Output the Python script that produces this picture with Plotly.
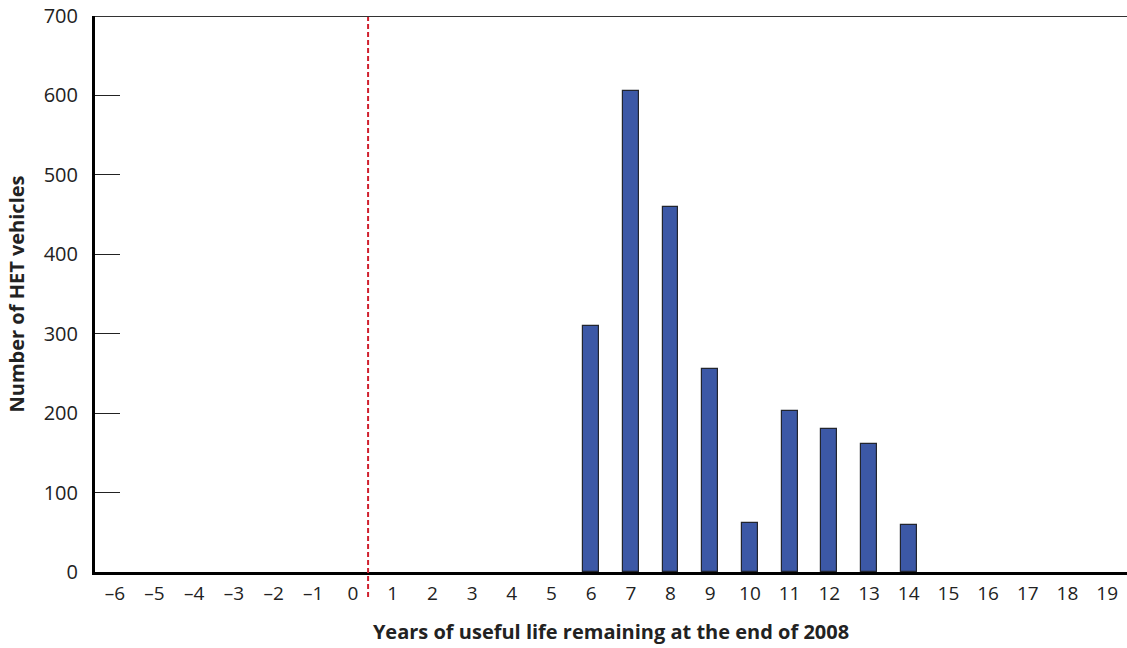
import plotly.graph_objects as go

years = list(range(-6, 20))
tick_labels = [("\u2013" + str(-y)) if y < 0 else str(y) for y in years]
bar_years = [6, 7, 8, 9, 10, 11, 12, 13, 14]
vehicles = [310, 606, 460, 255, 62, 203, 180, 161, 59]
y_ticks = [0, 100, 200, 300, 400, 500, 600, 700]
cutoff = 0.38

fig = go.Figure()
fig.add_trace(go.Bar(
    x=bar_years, y=vehicles, width=0.4,
    marker=dict(color="#3C58A6", line=dict(color="#22252E", width=1.2)),
    showlegend=False,
))

fig.add_shape(type="line", xref="x", yref="paper", x0=cutoff, x1=cutoff, y0=-0.045, y1=1,
              line=dict(color="#D0202E", width=2, dash="5px,3px"))
fig.add_shape(type="line", xref="paper", yref="y", x0=0, x1=1, y0=700, y1=700,
              line=dict(color="#333333", width=2))

font_family = "Open Sans, Noto Sans, sans-serif"
fig.update_layout(
    width=1127, height=648,
    margin=dict(l=95, r=0, t=16, b=76),
    plot_bgcolor="white", paper_bgcolor="white",
    font=dict(family=font_family, size=19, color="#222222"),
    bargap=0,
)
fig.update_xaxes(
    range=[-6.5, 19.5], tickmode="array", tickvals=years, ticktext=tick_labels,
    showline=True, linecolor="black", linewidth=3, ticks="", showgrid=False, zeroline=False,
    tickfont=dict(size=19), ticklabelstandoff=2,
    title=dict(text="<b>Years of useful life remaining at the end of 2008</b>",
               font=dict(size=20, color="#222222"), standoff=21),
)
fig.update_yaxes(
    range=[0, 700], tickmode="array", tickvals=y_ticks,
    showline=True, linecolor="black", linewidth=3, ticks="inside", ticklen=25,
    tickcolor="#222222", tickwidth=1, showgrid=False, zeroline=False,
    tickfont=dict(size=20), ticklabelstandoff=10,
    title=dict(text="<b>Number of HET vehicles</b>", font=dict(size=20, color="#222222"), standoff=14),
)

fig.write_html("out.html", config={"displayModeBar": False},
               post_script="document.body.style.margin='0px';")
